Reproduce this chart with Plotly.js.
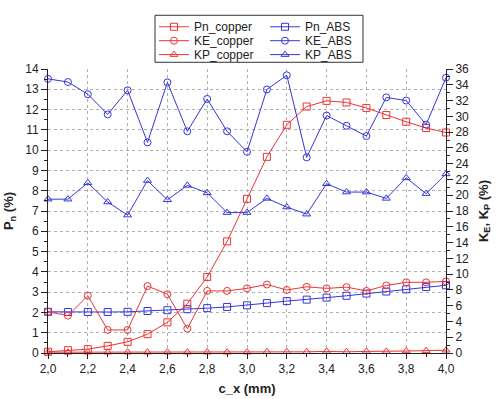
<!DOCTYPE html>
<html>
<head>
<meta charset="utf-8">
<script src="https://cdn.plot.ly/plotly-3.0.1.min.js"></script>
<style>
  html, body { margin: 0; padding: 0; background: #ffffff; }
  #chart { width: 498px; height: 399px; }
</style>
</head>
<body>
<div id="chart"></div>
<script>
// Gap position c_x (mm)
const cx = [2.0, 2.1, 2.2, 2.3, 2.4, 2.5, 2.6, 2.7, 2.8, 2.9, 3.0,
            3.1, 3.2, 3.3, 3.4, 3.5, 3.6, 3.7, 3.8, 3.9, 4.0];

// P_n (%) - left axis
const pnCopper = [0.06, 0.14, 0.19, 0.35, 0.55, 0.93, 1.51, 2.43, 3.75, 5.5, 7.6,
                  9.67, 11.25, 12.15, 12.43, 12.35, 12.08, 11.73, 11.4, 11.09, 10.87];
const pnAbs = [2.03, 2.02, 2.02, 2.02, 2.03, 2.07, 2.11, 2.16, 2.21, 2.27, 2.35,
               2.46, 2.56, 2.63, 2.73, 2.82, 2.93, 3.03, 3.14, 3.25, 3.34];

// K_E, K_P (%) - right axis
const keCopper = [5.23, 4.74, 7.26, 2.92, 2.92, 8.48, 7.46, 3.08, 7.87, 7.87, 8.19,
                  8.68, 7.99, 8.39, 8.19, 8.35, 7.87, 8.56, 8.96, 8.96, 9.08];
const keAbs = [34.75, 34.35, 32.8, 30.25, 33.3, 26.7, 34.3, 28.1, 32.2, 28.1, 25.5,
               33.4, 35.2, 24.8, 30.1, 28.8, 27.5, 32.4, 32.0, 28.95, 34.9];
const kpCopper = [0.1, 0.1, 0.1, 0.1, 0.1, 0.1, 0.1, 0.1, 0.1, 0.1, 0.1,
                  0.15, 0.15, 0.15, 0.2, 0.15, 0.2, 0.2, 0.25, 0.3, 0.35];
const kpAbs = [19.5, 19.5, 21.57, 19.14, 17.48, 21.86, 19.42, 21.25, 20.3, 17.8, 17.8,
               19.6, 18.5, 17.6, 21.45, 20.4, 20.4, 19.6, 22.2, 20.2, 22.7];

const RED = '#ee3333';
const BLUE = '#3535dd';
const AXIS = '#222222';
const FONT = 'Liberation Sans, Arial, sans-serif';

function series(name, y, color, symbol, yaxis, legend) {
  return {
    type: 'scatter', mode: 'lines+markers', name: name,
    x: cx, y: y, yaxis: yaxis, legend: legend,
    cliponaxis: false,
    line: { color: color, width: 1 },
    marker: { symbol: symbol, size: 7, color: color, line: { color: color, width: 1 } }
  };
}

const traces = [
  series('KP_copper', kpCopper, RED, 'triangle-up-open', 'y2', 'legend5'),
  series('KP_ABS', kpAbs, BLUE, 'triangle-up-open', 'y2', 'legend6'),
  series('KE_copper', keCopper, RED, 'circle-open', 'y2', 'legend3'),
  series('KE_ABS', keAbs, BLUE, 'circle-open', 'y2', 'legend4'),
  series('Pn_ABS', pnAbs, BLUE, 'square-open', 'y', 'legend2'),
  series('Pn_copper', pnCopper, RED, 'square-open', 'y', 'legend')
];

// Plot area in pixels: x 48..446, y 57..353
function legendAt(xp, yp) {
  return {
    x: (xp - 48) / 398, y: (353 - yp) / 296,
    xanchor: 'left', yanchor: 'middle',
    bgcolor: 'rgba(0,0,0,0)', borderwidth: 0,
    font: { family: FONT, size: 12, color: AXIS },
    itemwidth: 30
  };
}

const layout = {
  width: 498, height: 399,
  margin: { l: 48, r: 52, t: 57, b: 46, pad: 0 },
  paper_bgcolor: '#ffffff', plot_bgcolor: '#ffffff',
  separators: ',.',
  font: { family: FONT, size: 12, color: AXIS },
  showlegend: true,
  legend: legendAt(154, 13),
  legend2: legendAt(265, 13),
  legend3: legendAt(154, 27.5),
  legend4: legendAt(265, 27.5),
  legend5: legendAt(154, 42),
  legend6: legendAt(265, 42),
  xaxis: {
    range: [2, 4], tick0: 2, dtick: 0.2, tickformat: '.1f',
    ticks: 'outside', ticklen: 5, tickcolor: AXIS, tickwidth: 1,
    minor: { dtick: 0.1, ticks: 'outside', ticklen: 3, tickcolor: AXIS, showgrid: false },
    showline: true, linecolor: AXIS, linewidth: 1,
    showgrid: true, gridcolor: '#b0b0b0', griddash: '3px,3px', gridwidth: 1,
    zeroline: false, automargin: false,
    tickfont: { size: 12, color: AXIS },
    title: { text: '<b>c_x (mm)</b>', font: { size: 13, color: AXIS }, standoff: 8 }
  },
  xaxis2: {
    overlaying: 'x', side: 'top', anchor: 'y', range: [2, 4], tick0: 2, dtick: 0.1,
    ticks: 'inside', ticklen: 4, tickcolor: AXIS, showticklabels: false,
    showline: true, linecolor: AXIS, linewidth: 1,
    showgrid: false, zeroline: false
  },
  yaxis: {
    range: [0, 14], tick0: 0, dtick: 1,
    ticks: 'outside', ticklen: 6, tickcolor: AXIS, tickwidth: 1,
    minor: { dtick: 0.5, ticks: 'outside', ticklen: 3, tickcolor: AXIS, showgrid: false },
    showline: true, linecolor: AXIS, linewidth: 1,
    showgrid: true, gridcolor: '#b0b0b0', griddash: '3px,3px', gridwidth: 1,
    zeroline: false, automargin: false,
    tickfont: { size: 12, color: AXIS },
    title: { text: '<b>P<sub>n</sub> (%)</b>', font: { size: 13, color: AXIS }, standoff: 8 }
  },
  yaxis2: {
    overlaying: 'y', side: 'right', anchor: 'x',
    range: [0, 36], tick0: 0, dtick: 2,
    ticks: 'outside', ticklen: 6, tickcolor: AXIS, tickwidth: 1,
    minor: { dtick: 1, ticks: 'outside', ticklen: 3, tickcolor: AXIS, showgrid: false },
    showline: true, linecolor: AXIS, linewidth: 1,
    showgrid: false, zeroline: false, automargin: false,
    tickfont: { size: 12, color: AXIS },
    title: { text: '<b>K<sub>E</sub>, K<sub>P</sub> (%)</b>', font: { size: 13, color: AXIS }, standoff: 10 }
  },
  shapes: [{
    type: 'rect', xref: 'paper', yref: 'paper',
    x0: (155 - 48) / 398, x1: (363 - 48) / 398,
    y0: (353 - 50) / 296, y1: (353 - 1) / 296,
    line: { color: '#333333', width: 1 }, fillcolor: 'rgba(0,0,0,0)'
  }]
};

Plotly.newPlot('chart', traces, layout, { staticPlot: true, displayModeBar: false });
</script>
</body>
</html>
